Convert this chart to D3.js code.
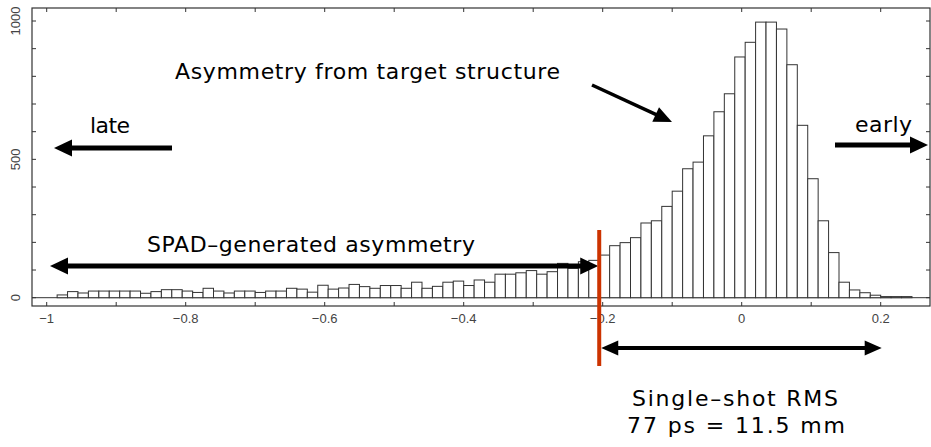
<!DOCTYPE html>
<html>
<head>
<meta charset="utf-8">
<script src="https://cdn.jsdelivr.net/npm/d3@7"></script>
<style>
  body { margin: 0; background: #fff; }
  svg text { font-family: "DejaVu Sans", sans-serif; }
</style>
</head>
<body>
<div id="chart"></div>
<script>
// histogram: 83 bins of 0.015 starting at -1.0
const binStart = -1.0;
const binWidth = 0.015;
const counts = [
  0, 10, 22, 17, 24, 24, 24, 24, 24, 16,
  22, 29, 29, 24, 19, 34, 24, 17, 24, 24,
  19, 24, 24, 34, 31, 20, 45, 31, 35, 48,
  40, 34, 44, 44, 34, 56, 34, 41, 56, 60,
  44, 64, 56, 85, 85, 90, 98, 85, 94, 124,
  106, 130, 135,
  154, 188, 199, 217, 270, 278, 330, 385, 466, 490,
  585, 672, 737, 870, 923, 996, 996, 971, 842, 623,
  430, 278, 163, 56, 28, 18, 9, 4, 4, 4
];
const xTicks = [-1, -0.8, -0.6, -0.4, -0.2, 0, 0.2];
const yTicks = [0, 500, 1000];
const cutValue = -0.205; // red marker

const width = 931, height = 447;
const frame = { left: 32, right: 930, top: 8, bottom: 306 };

const svg = d3.select('#chart')
  .append('svg')
  .attr('width', width)
  .attr('height', height);

let x = d3.scaleLinear()
  .domain([-1, 0.2])
  .range([46.7, 880.7]);

let y = d3.scaleLinear()
  .domain([0, 1000])
  .range([297.7, 21]);

let bins = counts.map((c, i) => ({ x0: binStart + i * binWidth, x1: binStart + (i + 1) * binWidth, count: c }));

// frame
svg.append('rect')
  .attr('x', frame.left)
  .attr('y', frame.top)
  .attr('width', frame.right - frame.left)
  .attr('height', frame.bottom - frame.top)
  .attr('fill', 'none')
  .attr('stroke', '#333')
  .attr('stroke-width', 1.2);

// minor/major ticks, drawn inside the frame
let axes = svg.append('g').attr('stroke', '#333').attr('stroke-width', 1);
d3.range(-1, 0.27, 0.1).forEach(v => {
  let px = x(v);
  axes.append('line').attr('x1', px).attr('x2', px).attr('y1', frame.top).attr('y2', frame.top + 4);
  axes.append('line').attr('x1', px).attr('x2', px).attr('y1', frame.bottom).attr('y2', frame.bottom - 4);
});
d3.range(0, 1001, 100).forEach(v => {
  let py = y(v);
  axes.append('line').attr('x1', frame.left).attr('x2', frame.left + 4).attr('y1', py).attr('y2', py);
  axes.append('line').attr('x1', frame.right).attr('x2', frame.right - 4).attr('y1', py).attr('y2', py);
});

// zero line
svg.append('line')
  .attr('x1', frame.left).attr('x2', frame.right)
  .attr('y1', y(0)).attr('y2', y(0))
  .attr('stroke', '#333');

// bars
svg.append('g')
  .selectAll('rect')
  .data(bins)
  .enter()
  .append('rect')
  .attr('x', d => x(d.x0))
  .attr('y', d => y(d.count))
  .attr('width', d => x(d.x1) - x(d.x0))
  .attr('height', d => y(0) - y(d.count))
  .attr('fill', '#fff')
  .attr('stroke', '#333')
  .attr('stroke-width', 1);

// tick labels
svg.append('g')
  .selectAll('text')
  .data(xTicks)
  .enter()
  .append('text')
  .attr('x', d => x(d))
  .attr('y', 323)
  .style('text-anchor', 'middle')
  .style('font-family', '"Liberation Sans", sans-serif')
  .style('font-size', '13px')
  .style('fill', '#444')
  .text(d => d3.format('~g')(d));

svg.append('g')
  .selectAll('text')
  .data(yTicks)
  .enter()
  .append('text')
  .attr('transform', d => `translate(20, ${y(d)}) rotate(-90)`)
  .style('text-anchor', 'middle')
  .style('font-family', '"Liberation Sans", sans-serif')
  .style('font-size', '13px')
  .style('fill', '#444')
  .text(d => d);

// arrows
function arrow(x1, y1, x2, y2, w, headLen, headW, both) {
  let g = svg.append('g');
  let ang = Math.atan2(y2 - y1, x2 - x1);
  let ux = Math.cos(ang), uy = Math.sin(ang);
  let sx = both ? x1 + ux * headLen * 0.8 : x1, sy = both ? y1 + uy * headLen * 0.8 : y1;
  g.append('line')
    .attr('x1', sx).attr('y1', sy)
    .attr('x2', x2 - ux * headLen * 0.8).attr('y2', y2 - uy * headLen * 0.8)
    .attr('stroke', '#000').attr('stroke-width', w);
  let head = (tx, ty, dx, dy) => {
    let bx = tx - dx * headLen, by = ty - dy * headLen;
    g.append('path')
      .attr('d', `M${tx},${ty}L${bx - dy * headW / 2},${by + dx * headW / 2}L${bx + dy * headW / 2},${by - dx * headW / 2}Z`)
      .attr('fill', '#000');
  };
  head(x2, y2, ux, uy);
  if (both) head(x1, y1, -ux, -uy);
}

arrow(172, 148, 54, 148, 5, 18, 17, false);
arrow(835, 145, 928, 145, 5, 18, 17, false);
arrow(592, 85, 672, 122, 3.5, 18, 16, false);
arrow(50, 266, x(cutValue) - 1, 266, 5, 18, 17, true);
arrow(x(cutValue) + 2, 348, x(0.2) + 1, 348, 4, 17, 15, true);

// red cut marker
svg.append('line')
  .attr('x1', x(cutValue)).attr('x2', x(cutValue))
  .attr('y1', 230).attr('y2', 366)
  .attr('stroke', '#cc3300')
  .attr('stroke-width', 4);

// annotation text
let notes = [
  { t: 'Asymmetry from target structure', x: 175, y: 79, size: 22, len: 385 },
  { t: 'late', x: 90, y: 133, size: 22, len: 40 },
  { t: 'early', x: 855, y: 132, size: 22, len: 57 },
  { t: 'SPAD\u2013generated asymmetry', x: 147, y: 252, size: 22, len: 328 },
  { t: 'Single\u2013shot RMS', x: 632, y: 406, size: 22, len: 206 },
  { t: '77 ps = 11.5 mm', x: 627, y: 433, size: 22, len: 218 }
];
svg.append('g')
  .selectAll('text')
  .data(notes)
  .enter()
  .append('text')
  .attr('x', d => d.x)
  .attr('y', d => d.y)
  .attr('textLength', d => d.len)
  .attr('lengthAdjust', 'spacing')
  .style('font-size', d => d.size + 'px')
  .style('fill', '#000')
  .text(d => d.t);
</script>
</body>
</html>
